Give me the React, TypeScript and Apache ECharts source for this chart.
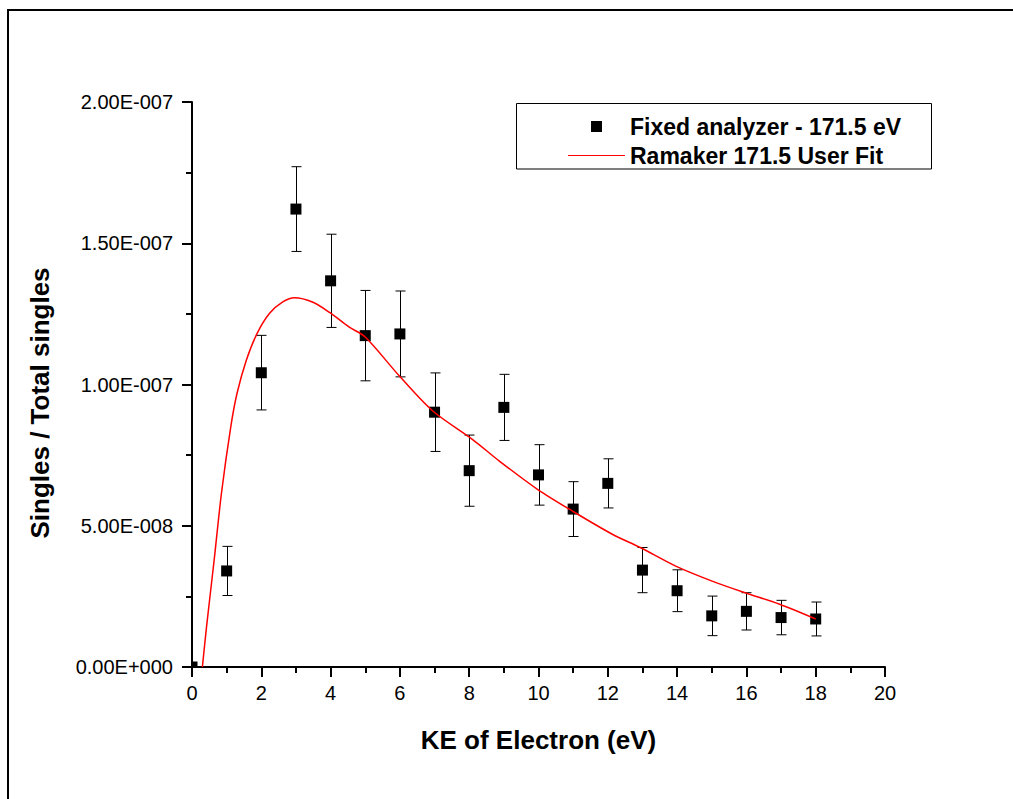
import React, { useEffect, useRef } from "react";
import * as echarts from "echarts";

// Measured data: KE of electron (eV), Singles / Total singles, symmetric error
const keValues = [0, 1, 2, 3, 4, 5, 6, 7, 8, 9, 10, 11, 12, 13, 14, 15, 16, 17, 18];
const ratioValues = [
  0, 3.40e-8, 1.042e-7, 1.621e-7, 1.367e-7, 1.173e-7, 1.179e-7, 9.02e-8, 6.95e-8, 9.19e-8,
  6.80e-8, 5.59e-8, 6.50e-8, 3.43e-8, 2.70e-8, 1.81e-8, 1.97e-8, 1.75e-8, 1.70e-8,
];
const errorValues = [
  0, 8.7e-9, 1.32e-8, 1.50e-8, 1.65e-8, 1.60e-8, 1.52e-8, 1.39e-8, 1.26e-8, 1.17e-8,
  1.07e-8, 9.7e-9, 8.7e-9, 8.0e-9, 7.4e-9, 7.0e-9, 6.6e-9, 6.1e-9, 6.0e-9,
];

// Fit curve
const fitX = [
  0.30, 0.42, 0.64, 0.85, 1.12, 1.30, 1.57, 1.88, 2.24, 2.63, 2.96, 3.49, 3.97, 4.54, 5.0,
  6.0, 6.95, 8.1, 8.87, 9.97, 10.98, 12.13, 12.95, 13.96, 15.01, 15.98, 16.94, 18.0,
];
const fitY = [
  0, 1.43e-8, 3.79e-8, 6.15e-8, 8.51e-8, 9.69e-8, 1.087e-7, 1.181e-7, 1.252e-7, 1.293e-7,
  1.307e-7, 1.291e-7, 1.255e-7, 1.203e-7, 1.168e-7, 1.028e-7, 9.06e-8, 8.05e-8, 7.29e-8,
  6.29e-8, 5.52e-8, 4.70e-8, 4.22e-8, 3.57e-8, 3.04e-8, 2.62e-8, 2.23e-8, 1.70e-8,
];

const xTicks = { min: 0, max: 20, interval: 2 };
const yTicks = { min: 0, max: 2e-7, interval: 5e-8 };

const seriesNames = ["Fixed analyzer - 171.5 eV", "Ramaker 171.5 User Fit"];
const xTitle = "KE of Electron (eV)";
const yTitle = "Singles / Total singles";

const FONT = "'Liberation Sans', Arial, Helvetica, sans-serif";

function fmtExp(v: number): string {
  const s = v.toExponential(2);
  const [m, e] = s.split("e");
  const sign = e[0] === "-" ? "-" : "+";
  const d = e.replace(/[+-]/, "").padStart(3, "0");
  return m + "E" + sign + d;
}

export default function App() {
  const ref = useRef<HTMLDivElement>(null);
  useEffect(() => {
    if (!ref.current) return;
    document.documentElement.style.overflow = "hidden";
    document.body.style.overflow = "hidden";
    document.body.style.margin = "0";
    const chart = echarts.init(ref.current, null, { renderer: "svg" });
    const pts = keValues.map((x, i) => [x, ratioValues[i], errorValues[i]]);
    const fit = fitX.map((x, i) => [x, fitY[i]]);
    chart.setOption({
      animation: false,
      textStyle: { fontFamily: FONT },
      grid: { left: 192, right: 128, top: 102, bottom: 132, containLabel: false, outerBoundsMode: "none" },
      legend: {
        orient: "vertical",
        left: 568,
        top: 115,
        padding: 0,
        itemGap: 6,
        itemWidth: 57,
        itemHeight: 11,
        selectedMode: false,
        textStyle: { fontFamily: FONT, fontSize: 23, fontWeight: "bold", color: "#000" },
        data: [
          { name: seriesNames[0], icon: "path://M0,0L10,0L10,10L0,10Z", itemStyle: { color: "#000", borderWidth: 0 } },
          { name: seriesNames[1], icon: "path://M0,0L57,0L57,1L0,1Z", itemStyle: { color: "#ff0000", borderWidth: 0 } },
        ],
      },
      xAxis: {
        type: "value",
        min: xTicks.min,
        max: xTicks.max,
        interval: xTicks.interval,
        name: xTitle,
        nameLocation: "middle",
        nameGap: 60,
        nameTextStyle: { fontFamily: FONT, fontSize: 26, fontWeight: "bold", color: "#000" },
        axisLine: { show: true, onZero: false, lineStyle: { color: "#000", width: 2 } },
        axisTick: { show: true, length: 10, lineStyle: { color: "#000", width: 2 } },
        minorTick: { show: true, splitNumber: 2, length: 6, lineStyle: { color: "#000", width: 2 } },
        axisLabel: { margin: 16, fontFamily: FONT, fontSize: 20, color: "#000" },
        splitLine: { show: false },
        minorSplitLine: { show: false },
      },
      yAxis: {
        type: "value",
        min: yTicks.min,
        max: yTicks.max,
        interval: yTicks.interval,
        axisLine: { show: true, onZero: false, lineStyle: { color: "#000", width: 2 } },
        axisTick: { show: true, length: 10, lineStyle: { color: "#000", width: 2 } },
        minorTick: { show: true, splitNumber: 2, length: 6, lineStyle: { color: "#000", width: 2 } },
        axisLabel: { margin: 19, fontFamily: FONT, fontSize: 20, color: "#000", formatter: fmtExp },
        splitLine: { show: false },
        minorSplitLine: { show: false },
      },
      series: [
        {
          name: seriesNames[0],
          type: "custom",
          clip: true,
          z: 2,
          itemStyle: { color: "#000" },
          encode: { x: 0, y: 1 },
          data: pts,
          renderItem: (params: any, api: any) => {
            const x = api.value(0);
            const y = api.value(1);
            const e = api.value(2);
            const c = api.coord([x, y]);
            const children: any[] = [];
            if (e > 0) {
              const t = api.coord([x, y + e]);
              const b = api.coord([x, y - e]);
              const cx = Math.round(c[0]) + 0.5;
              children.push({ type: "line", shape: { x1: cx, y1: t[1], x2: cx, y2: b[1] }, style: { stroke: "#000", lineWidth: 1 } });
              children.push({ type: "line", shape: { x1: cx - 5, y1: t[1], x2: cx + 5, y2: t[1] }, style: { stroke: "#000", lineWidth: 1 } });
              children.push({ type: "line", shape: { x1: cx - 5, y1: b[1], x2: cx + 5, y2: b[1] }, style: { stroke: "#000", lineWidth: 1 } });
            }
            children.push({ type: "rect", shape: { x: c[0] - 5.5, y: c[1] - 5.5, width: 11, height: 11 }, style: { fill: "#000" } });
            return { type: "group", children };
          },
        },
        {
          name: seriesNames[1],
          type: "line",
          z: 3,
          data: fit,
          showSymbol: false,
          smooth: 0.3,
          color: "#ff0000",
          lineStyle: { color: "#ff0000", width: 1.5 },
        },
      ],
      graphic: [
        { type: "rect", silent: true, shape: { x: 516.5, y: 103.5, width: 415, height: 65.5 }, style: { fill: "none", stroke: "#000", lineWidth: 1 } },
        {
          type: "text",
          silent: true,
          x: 40,
          y: 403,
          rotation: Math.PI / 2,
          style: { text: yTitle, font: `bold 26px ${FONT}`, fill: "#000", align: "center", verticalAlign: "middle" },
        },
      ],
    });
    return () => chart.dispose();
  }, []);
  return (
    <div style={{ position: "fixed", left: 0, top: 0, width: 1013, height: 799, background: "#fff", overflow: "hidden" }}>
      <div
        style={{
          position: "absolute",
          left: 6.5,
          top: 9,
          width: 1100,
          height: 900,
          borderLeft: "2px solid #000",
          borderTop: "2px solid #000",
          boxSizing: "border-box",
        }}
      />
      <div ref={ref} style={{ position: "absolute", left: 0, top: 0, width: 1013, height: 799 }} />
    </div>
  );
}
